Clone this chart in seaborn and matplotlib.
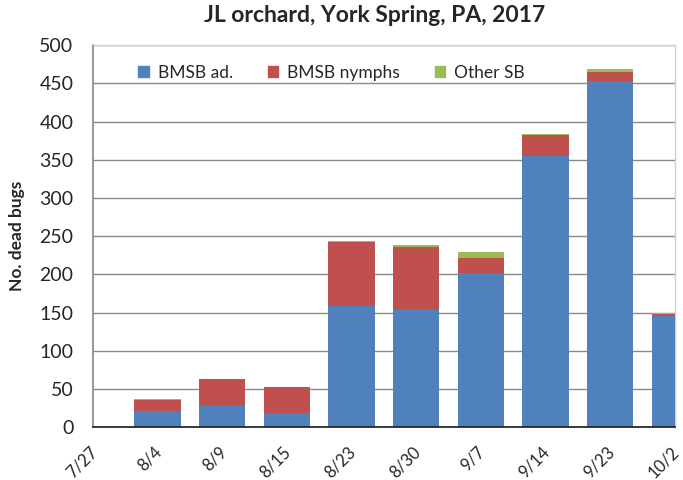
import matplotlib
matplotlib.use("Agg")
import matplotlib.pyplot as plt
import matplotlib.transforms as mtransforms
import numpy as np
import pandas as pd
import seaborn as sns
from matplotlib.patches import Patch

dates = ["7/27", "8/4", "8/9", "8/15", "8/23", "8/30", "9/7", "9/14", "9/23", "10/2"]
bmsb_adults = [0, 21, 28, 19, 159, 155, 202, 355, 453, 145]
bmsb_nymphs = [0, 15, 35, 33, 84, 81, 20, 27, 12, 3]
other_sb = [0, 1, 0, 0, 1, 3, 7, 2, 4, 1]
series_names = ["BMSB ad.", "BMSB nymphs", "Other SB"]
colors = ["#4F81BD", "#C0504D", "#9BBB59"]

sns.set_theme(style="white")
plt.rcParams["font.family"] = ["Lato", "DejaVu Sans"]

df = pd.DataFrame({
    "date": dates,
    "adults": bmsb_adults,
    "nymphs": bmsb_nymphs,
    "other": other_sb,
})
df["lvl1"] = df["adults"]
df["lvl2"] = df["adults"] + df["nymphs"]
df["lvl3"] = df["lvl2"] + df["other"]

fig = plt.figure(figsize=(6.83, 4.8), dpi=100)
ax = fig.add_axes([0.136, 0.110, 0.852, 0.796])

# stacked bars drawn as cumulative layers, tallest first
for col, c in zip(["lvl3", "lvl2", "lvl1"], colors[::-1]):
    sns.barplot(data=df, x="date", y=col, color=c, saturation=1, width=0.72,
                linewidth=0, edgecolor="none", ax=ax, order=dates, zorder=3)

ax.set_xlim(0, 9)
ax.set_ylim(0, 500)
ax.set_yticks(np.arange(0, 501, 50))
ax.yaxis.grid(True, color="#8a8a8a", linewidth=1.0, zorder=0)
ax.set_axisbelow(True)

for side in ["top", "right"]:
    ax.spines[side].set_color("#d0d0d0")
    ax.spines[side].set_linewidth(1.0)
ax.spines["left"].set_color("#8a8a8a")
ax.spines["bottom"].set_color("#222222")
ax.spines["bottom"].set_zorder(4)

ax.tick_params(axis="y", labelsize=14, length=0, pad=14)
ax.tick_params(axis="x", labelsize=12, length=0, pad=12)
ax.set_xticks(range(len(dates)))
ax.set_xticklabels(dates, rotation=45, ha="right", rotation_mode="anchor")
shift = mtransforms.ScaledTranslation(-4 / 100, 0, fig.dpi_scale_trans)
for lbl in ax.get_xticklabels():
    lbl.set_transform(lbl.get_transform() + shift)

ax.set_xlabel("")
ax.set_ylabel("No. dead bugs", fontsize=12.5, fontweight="bold", labelpad=10)

fig.suptitle("JL orchard, York Spring, PA, 2017", fontsize=16.5, fontweight="bold",
             x=0.548, y=0.99)

handles = [Patch(facecolor=c, edgecolor=c) for c in colors]
ax.legend(handles, series_names, loc="upper center", bbox_to_anchor=(0.41, 0.99),
          ncol=3, frameon=False, fontsize=12.5, handlelength=0.62, handleheight=0.62,
          columnspacing=2.0, handletextpad=0.5)

fig.savefig("out.png", dpi=100)
